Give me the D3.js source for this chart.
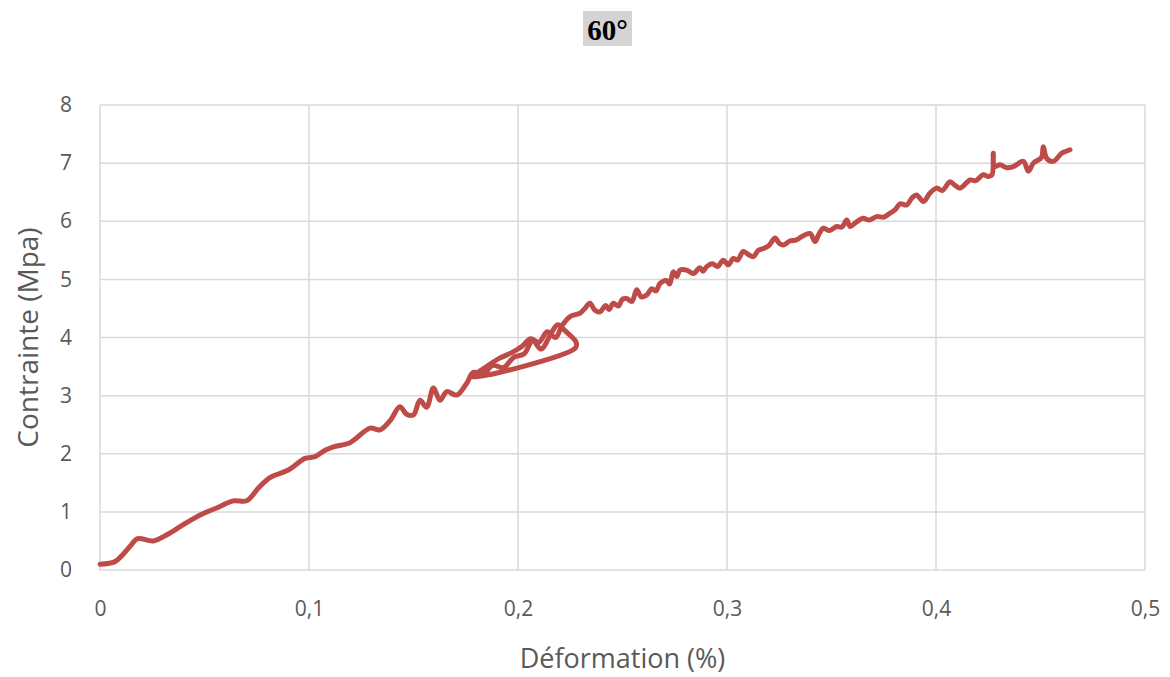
<!DOCTYPE html>
<html>
<head>
<meta charset="utf-8">
<script src="https://cdn.jsdelivr.net/npm/d3@7"></script>
<style>
  body { margin: 0; background: #fff; }
  svg { display: block; }
</style>
</head>
<body>
<svg id="chart" width="1170" height="677"></svg>
<script>
// strain (%) / stress (MPa)
const strain = [
  0, 0.007, 0.010, 0.0144, 0.018, 0.0255, 0.0327, 0.0407, 0.0487, 0.0566,
  0.0638, 0.0702, 0.0758, 0.0813, 0.0901, 0.0981, 0.1029, 0.1077, 0.1117, 0.1196,
  0.1292, 0.134, 0.1388, 0.1435, 0.1467, 0.15, 0.1531, 0.1563, 0.1595, 0.1627,
  0.1659, 0.1707, 0.1754, 0.1786, 0.183, 0.188, 0.193, 0.198, 0.203, 0.207,
  0.211, 0.216, 0.219, 0.223, 0.2278, 0.2275, 0.178, 0.185, 0.191, 0.197,
  0.202, 0.206, 0.21, 0.214, 0.218, 0.221, 0.2249, 0.2297, 0.232, 0.2344,
  0.2368, 0.2392, 0.242, 0.2435, 0.2456, 0.248, 0.250, 0.252, 0.2545, 0.2568,
  0.259, 0.2616, 0.264, 0.266, 0.268, 0.271, 0.2725, 0.2743, 0.276, 0.2775,
  0.2807, 0.2839, 0.287, 0.2885, 0.2903, 0.293, 0.2955, 0.2982, 0.3006, 0.303,
  0.305, 0.3078, 0.3105, 0.3126, 0.315, 0.3174, 0.320, 0.323, 0.325, 0.327,
  0.330, 0.3333, 0.336, 0.3397, 0.3421, 0.344, 0.3461, 0.349, 0.3525, 0.355,
  0.3573, 0.3589, 0.362, 0.3652, 0.368, 0.3716, 0.375, 0.378, 0.3805, 0.3828,
  0.386, 0.3885, 0.3907, 0.394, 0.397, 0.4003, 0.403, 0.4067, 0.409, 0.4115,
  0.4163, 0.419, 0.4226, 0.425, 0.4268, 0.4274, 0.428, 0.4306, 0.434, 0.437,
  0.4418, 0.4442, 0.4466, 0.4505, 0.4513, 0.453, 0.4561, 0.4601, 0.462, 0.4641
];
const stress = [
  0.1, 0.14, 0.23, 0.41, 0.54, 0.50, 0.62, 0.80, 0.96, 1.08,
  1.19, 1.19, 1.41, 1.59, 1.72, 1.92, 1.95, 2.06, 2.12, 2.19,
  2.44, 2.41, 2.57, 2.81, 2.68, 2.67, 2.92, 2.80, 3.13, 2.92,
  3.07, 3.01, 3.21, 3.40, 3.36, 3.52, 3.48, 3.66, 3.72, 3.95,
  3.80, 4.08, 4.22, 4.10, 3.92, 3.82, 3.32, 3.50, 3.64, 3.74,
  3.85, 3.98, 3.92, 4.10, 4.00, 4.20, 4.36, 4.42, 4.50, 4.59,
  4.47, 4.44, 4.55, 4.48, 4.59, 4.54, 4.66, 4.67, 4.62, 4.82,
  4.70, 4.73, 4.84, 4.80, 4.93, 4.98, 4.92, 5.13, 5.05, 5.16,
  5.16, 5.10, 5.20, 5.14, 5.22, 5.27, 5.22, 5.33, 5.25, 5.36,
  5.33, 5.48, 5.42, 5.39, 5.50, 5.53, 5.58, 5.71, 5.62, 5.59,
  5.66, 5.68, 5.74, 5.79, 5.65, 5.78, 5.88, 5.84, 5.91, 5.90,
  6.02, 5.91, 5.99, 6.05, 6.02, 6.08, 6.07, 6.14, 6.20, 6.30,
  6.28, 6.40, 6.45, 6.34, 6.48, 6.57, 6.53, 6.68, 6.62, 6.57,
  6.71, 6.70, 6.80, 6.77, 6.80, 7.17, 6.94, 6.97, 6.92, 6.94,
  7.03, 6.86, 7.00, 7.10, 7.28, 7.08, 7.03, 7.17, 7.20, 7.23
];
const xTicks = [0, 0.1, 0.2, 0.3, 0.4, 0.5];
const yTicks = [0, 1, 2, 3, 4, 5, 6, 7, 8];

const W = 1170, H = 677;
const margin = { top: 105, right: 25, bottom: 107, left: 100 };
const textColor = '#595959';
const gridColor = '#d9d9d9';
const lineColor = '#be4b48';

const svg = d3.select('#chart');

const x = d3.scaleLinear().domain([0, 0.5]).range([margin.left, W - margin.right]);
const y = d3.scaleLinear().domain([0, 8]).range([H - margin.bottom, margin.top]);

const fr = d3.formatLocale({ decimal: ',', thousands: ' ', grouping: [3], currency: ['', ' €'] });
const fmtX = d => d === 0 ? '0' : fr.format('.1f')(d);

// title
const title = svg.append('g');
title.append('rect')
  .attr('x', 583).attr('y', 11).attr('width', 49).attr('height', 35)
  .attr('fill', '#d4d4d4');
title.append('text')
  .attr('x', 607.5).attr('y', 40)
  .attr('text-anchor', 'middle')
  .style('font-family', '"Liberation Serif", "Times New Roman", serif')
  .style('font-weight', 'bold')
  .style('font-size', '29px')
  .attr('fill', '#000')
  .text('60°');

// grid
svg.append('g')
  .selectAll('line.h')
  .data(yTicks)
  .enter().append('line')
  .attr('x1', x(0)).attr('x2', x(0.5))
  .attr('y1', d => y(d)).attr('y2', d => y(d))
  .attr('stroke', gridColor).attr('stroke-width', 1.5);

svg.append('g')
  .selectAll('line.v')
  .data(xTicks)
  .enter().append('line')
  .attr('x1', d => x(d)).attr('x2', d => x(d))
  .attr('y1', y(0)).attr('y2', y(8))
  .attr('stroke', gridColor).attr('stroke-width', 1.5);

// axes
const xAxis = svg.append('g')
  .attr('transform', `translate(0,${y(0)})`)
  .call(d3.axisBottom(x).tickValues(xTicks).tickFormat(fmtX).tickSize(0).tickPadding(31));
const yAxis = svg.append('g')
  .attr('transform', `translate(${x(0)},0)`)
  .call(d3.axisLeft(y).tickValues(yTicks).tickSize(0).tickPadding(28));

[xAxis, yAxis].forEach(a => {
  a.select('.domain').remove();
  a.selectAll('text')
    .style('font-family', '"Open Sans", sans-serif')
    .style('font-size', '21px')
    .attr('fill', textColor);
});

// axis titles
svg.append('text')
  .attr('x', (x(0) + x(0.5)) / 2).attr('y', 668)
  .attr('text-anchor', 'middle')
  .style('font-family', '"Open Sans", sans-serif')
  .style('font-size', '27px')
  .attr('fill', textColor)
  .text('Déformation (%)');

svg.append('text')
  .attr('transform', `translate(38,${(y(0) + y(8)) / 2}) rotate(-90)`)
  .attr('text-anchor', 'middle')
  .style('font-family', '"Open Sans", sans-serif')
  .style('font-size', '28px')
  .attr('fill', textColor)
  .text('Contrainte (Mpa)');

// curve
const pts = strain.map((s, i) => [s, stress[i]]);
const line = d3.line()
  .x(d => x(d[0]))
  .y(d => y(d[1]))
  .curve(d3.curveCatmullRom.alpha(0.5));

svg.append('path')
  .datum(pts)
  .attr('fill', 'none')
  .attr('stroke', lineColor)
  .attr('stroke-width', 5)
  .attr('stroke-linejoin', 'round')
  .attr('stroke-linecap', 'round')
  .attr('d', line);
</script>
</body>
</html>
